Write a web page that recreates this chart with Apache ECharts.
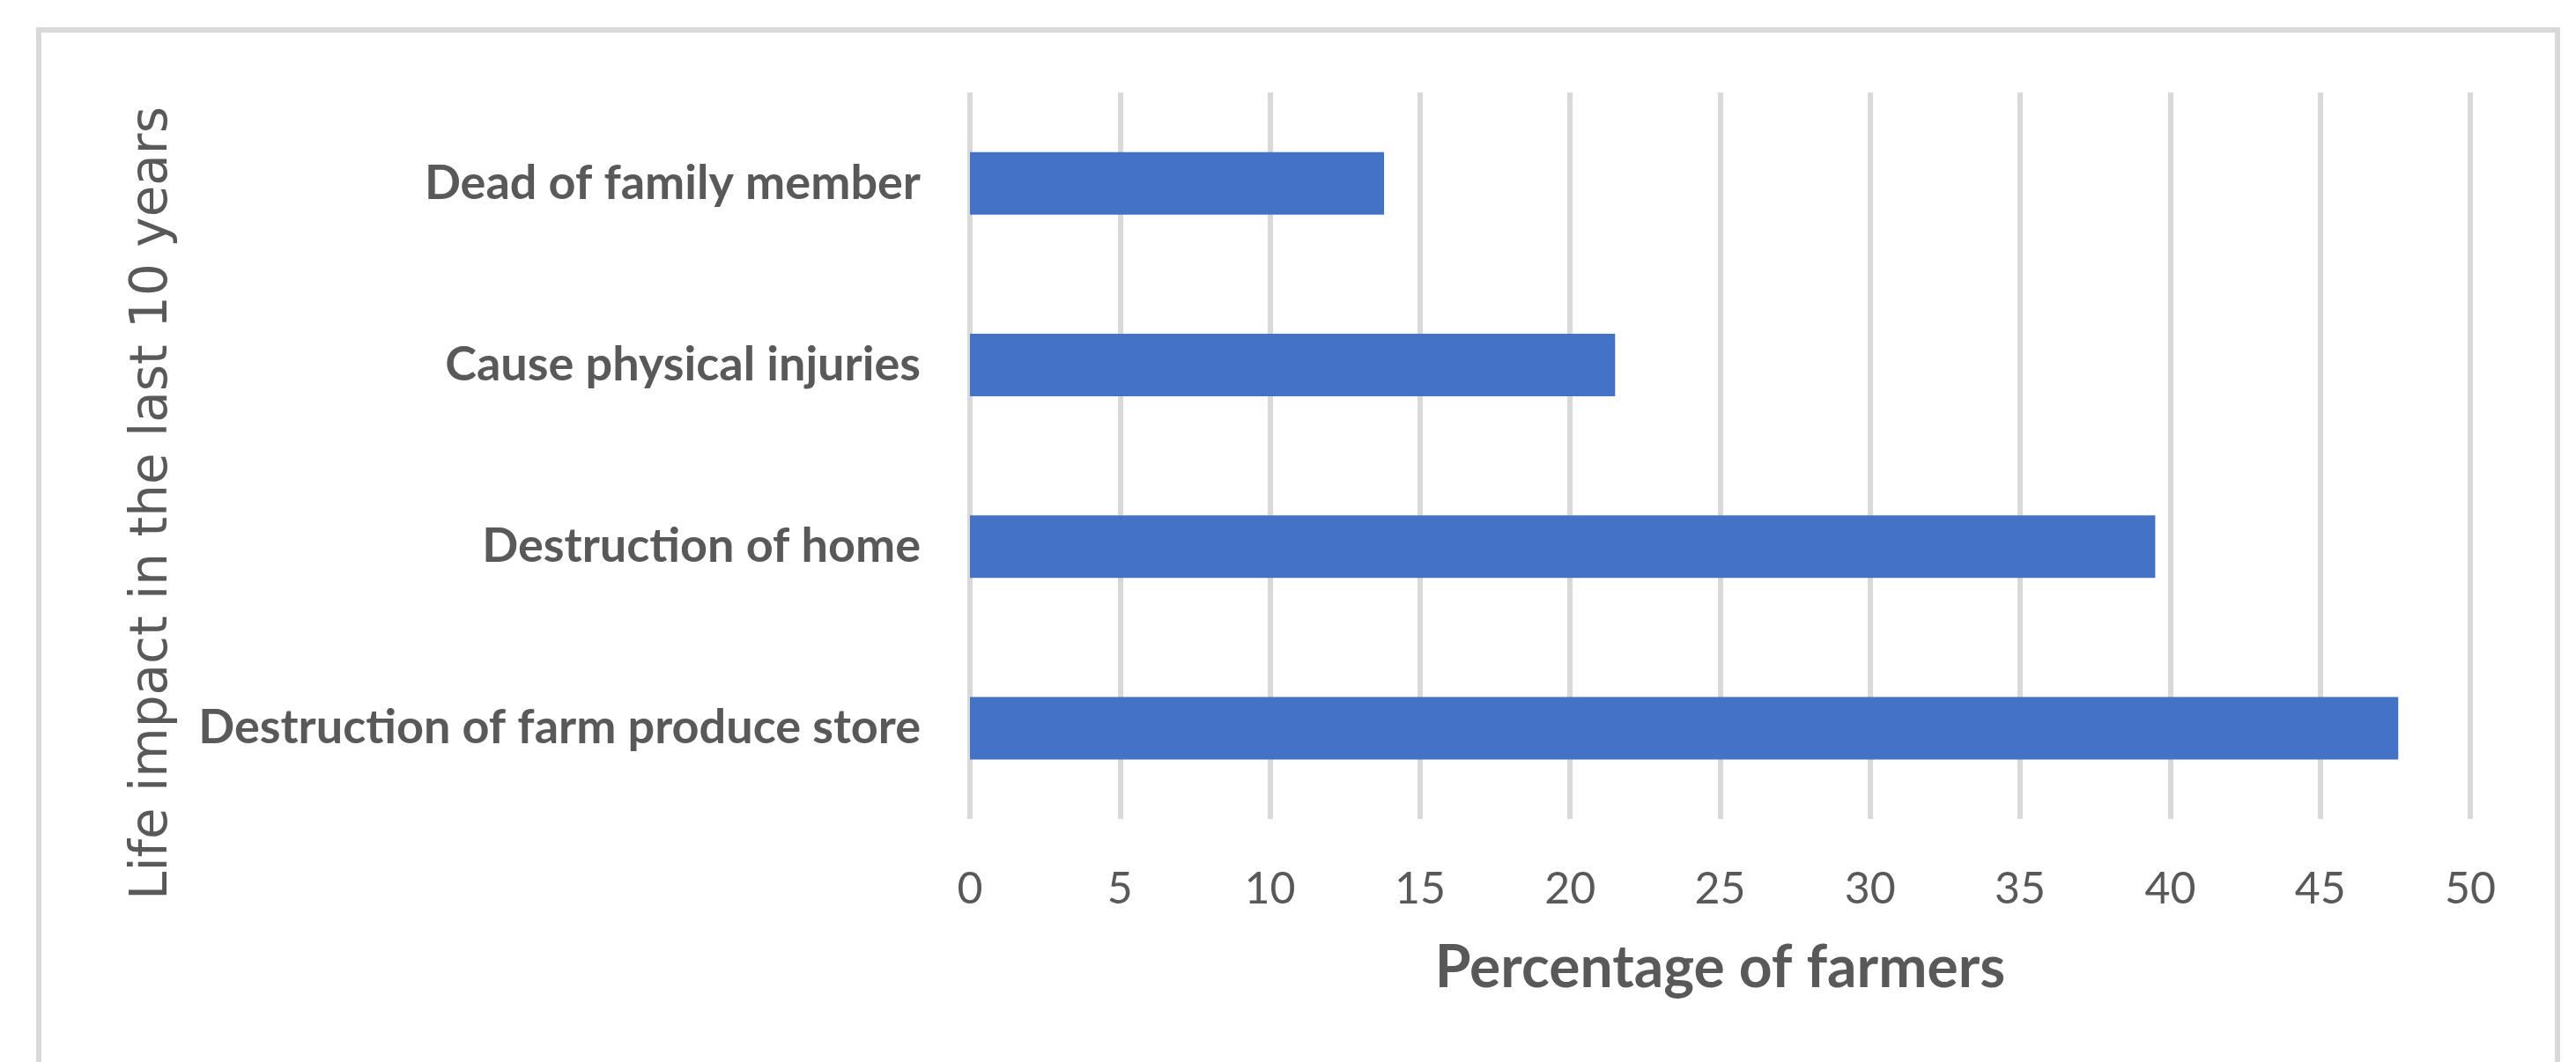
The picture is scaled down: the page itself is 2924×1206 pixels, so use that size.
<!DOCTYPE html>
<html>
<head>
<meta charset="utf-8">
<script src="https://cdn.jsdelivr.net/npm/echarts@6/dist/echarts.min.js"></script>
<style>
  html, body { margin: 0; padding: 0; background: #fff; }
  #main { width: 2924px; height: 1206px; }
</style>
</head>
<body>
<div id="main"></div>
<script>
// 数据：从上到下的类别
var categories = ['Dead of family member', 'Cause physical injuries', 'Destruction of home', 'Destruction of farm produce store'];
var values = [13.8, 21.5, 39.5, 47.6];
// 坐标轴刻度
var xMin = 0;
var xMax = 50;
var xStep = 5;

var textColor = '#595959';
var gridColor = '#d9d9d9';

var myChart = echarts.init(document.getElementById('main'));

var option = {
    backgroundColor: '#fff',
    animation: false,
    // 外框
    graphic: [{
        type: 'rect',
        shape: { x: 44, y: 34, width: 2859, height: 1300 },
        style: { fill: 'none', stroke: gridColor, lineWidth: 6 },
        silent: true
    }],
    grid: {
        left: 1101,
        right: 120,
        top: 105,
        bottom: 276
    },
    xAxis: {
        type: 'value',
        min: xMin,
        max: xMax,
        interval: xStep,
        name: 'Percentage of farmers',
        nameLocation: 'middle',
        nameGap: 137,
        nameTextStyle: {
            color: textColor,
            fontFamily: 'Lato',
            fontWeight: 'bold',
            fontSize: 66
        },
        axisLine: { show: false },
        axisTick: { show: false },
        axisLabel: {
            color: textColor,
            fontFamily: 'Lato',
            fontSize: 50,
            margin: 55
        },
        splitLine: {
            show: true,
            lineStyle: { color: gridColor, width: 6 }
        }
    },
    yAxis: {
        type: 'category',
        data: categories,
        inverse: true,
        name: 'Life impact in the last 10 years',
        nameLocation: 'middle',
        nameGap: 898,
        nameTextStyle: {
            color: textColor,
            fontFamily: 'DejaVu Sans',
            fontSize: 58,
            // 往下挪一点
            padding: [0, 108, 0, 0]
        },
        axisLine: { show: false },
        axisTick: { show: false },
        axisLabel: {
            color: textColor,
            fontFamily: 'Lato',
            fontWeight: 'bold',
            fontSize: 54,
            margin: 56
        },
        splitLine: { show: false }
    },
    series: [{
        type: 'bar',
        data: values,
        barWidth: 71,
        itemStyle: { color: '#4472c4' }
    }]
};

myChart.setOption(option);
</script>
</body>
</html>
